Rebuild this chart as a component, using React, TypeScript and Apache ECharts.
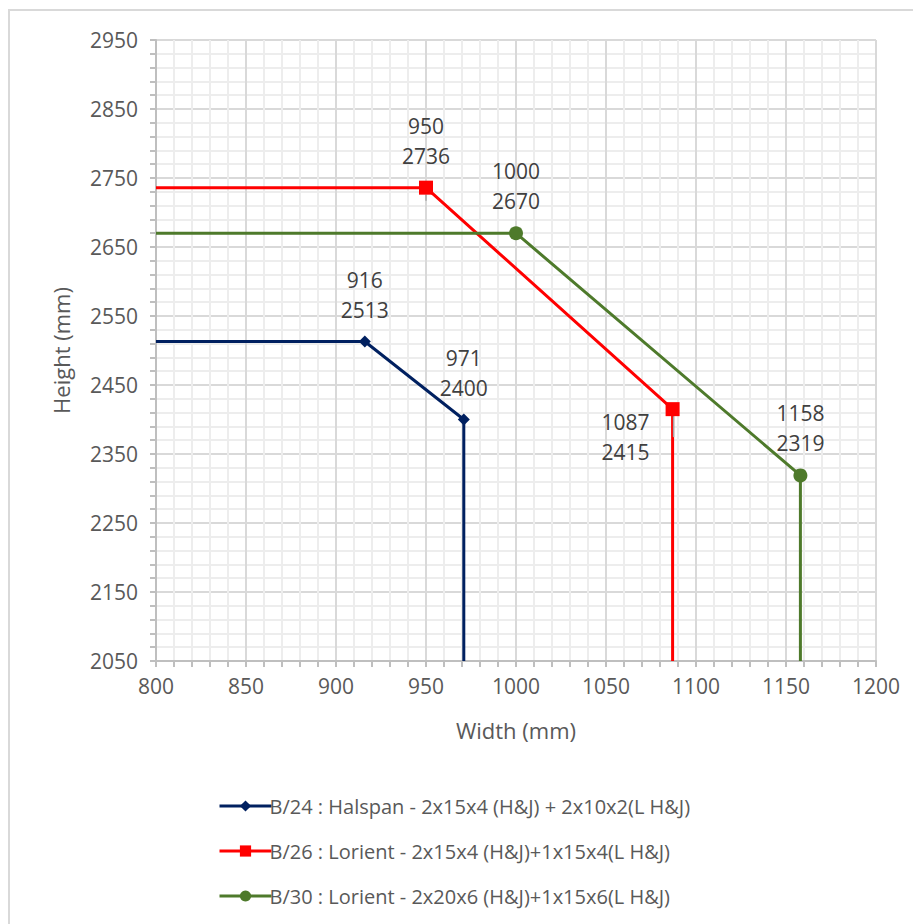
import React, { useEffect, useRef } from "react";
import * as echarts from "echarts";

const xTicks = { min: 800, max: 1200, interval: 50 };
const yTicks = { min: 2050, max: 2950, interval: 100 };

const seriesNames = [
  "B/24 : Halspan - 2x15x4 (H&J) + 2x10x2(L H&J)",
  "B/26 : Lorient - 2x15x4 (H&J)+1x15x4(L H&J)",
  "B/30 : Lorient - 2x20x6 (H&J)+1x15x6(L H&J)",
];
const seriesColors = ["#002060", "#FF0000", "#4E7A2B"];
const seriesSymbols = ["diamond", "rect", "circle"];
const seriesSymbolSizes = [12, 14, 14];

// each series: start at left axis, flat to first marker, slope to second marker, down to bottom axis
const b24Width = [800, 916, 971, 971];
const b24Height = [2513, 2513, 2400, 2050];
const b26Width = [800, 950, 1087, 1087];
const b26Height = [2736, 2736, 2415, 2050];
const b30Width = [800, 1000, 1158, 1158];
const b30Height = [2670, 2670, 2319, 2050];
const markerIndices = [1, 2];

const widths = [b24Width, b26Width, b30Width];
const heights = [b24Height, b26Height, b30Height];

const FONT = "'Open Sans', sans-serif";
const TEXT = "#595959";
const LABEL = "#404040";

export default function App() {
  const ref = useRef<HTMLDivElement>(null);
  useEffect(() => {
    if (!ref.current) return;
    const chart = echarts.init(ref.current, null, { renderer: "svg" });
    const series = widths.map((xs, si) => ({
      name: seriesNames[si],
      type: "line",
      color: seriesColors[si],
      symbol: seriesSymbols[si],
      symbolSize: seriesSymbolSizes[si],
      lineStyle: { width: 3, color: seriesColors[si] },
      itemStyle: { color: seriesColors[si] },
      showAllSymbol: true,
      data: xs.map((x, i) => {
        const isMarker = markerIndices.includes(i);
        const item: any = { value: [x, heights[si][i]] };
        if (!isMarker) {
          item.symbol = "none";
          item.label = { show: false };
        }
        return item;
      }),
      label: {
        show: true,
        position: "top",
        distance: si === 0 ? 11 : 10,
        color: LABEL,
        fontFamily: FONT,
        fontSize: 21,
        lineHeight: 30,
        formatter: (p: any) => `${p.value[0]}\n${p.value[1]}`,
      },
      labelLine: si === 1 ? { show: true, lineStyle: { color: "#a6a6a6", width: 1.5 } } : undefined,
    }));

    // red second marker label sits to the lower left
    (series[1].data as any[])[2].label = {
      show: true,
      position: "left",
      distance: 16,
      offset: [0, 28],
    };

    const plain = (v: number) => String(v);

    chart.setOption({
      animation: false,
      grid: { left: 156, right: 37, top: 40, bottom: 263, containLabel: false },
      xAxis: {
        type: "value",
        min: xTicks.min,
        max: xTicks.max,
        interval: xTicks.interval,
        name: "Width (mm)",
        nameLocation: "middle",
        nameGap: 58,
        nameTextStyle: { color: TEXT, fontFamily: FONT, fontSize: 22 },
        axisLine: { show: true, lineStyle: { color: "#bfbfbf", width: 2 } },
        axisTick: { show: true, length: 6, lineStyle: { color: "#bfbfbf", width: 2 } },
        minorTick: { show: true, splitNumber: 5, length: 6, lineStyle: { color: "#bfbfbf", width: 2 } },
        axisLabel: { color: TEXT, fontFamily: FONT, fontSize: 21, margin: 14, formatter: plain },
        splitLine: { show: true, lineStyle: { color: "#d9d9d9", width: 2 } },
        minorSplitLine: { show: true, lineStyle: { color: "#ededed", width: 2 } },
      },
      yAxis: {
        type: "value",
        min: yTicks.min,
        max: yTicks.max,
        interval: yTicks.interval,
        name: "Height (mm)",
        nameLocation: "middle",
        nameGap: 84,
        nameTextStyle: { color: TEXT, fontFamily: FONT, fontSize: 22 },
        axisLine: { show: true, lineStyle: { color: "#bfbfbf", width: 2 } },
        axisTick: { show: true, length: 6, lineStyle: { color: "#bfbfbf", width: 2 } },
        minorTick: { show: true, splitNumber: 5, length: 6, lineStyle: { color: "#bfbfbf", width: 2 } },
        axisLabel: { color: TEXT, fontFamily: FONT, fontSize: 21, margin: 18, formatter: plain },
        splitLine: { show: true, lineStyle: { color: "#d9d9d9", width: 2 } },
        minorSplitLine: { show: true, lineStyle: { color: "#ededed", width: 2 } },
      },
      legend: {
        orient: "vertical",
        left: 213,
        top: 791,
        itemWidth: 52,
        itemHeight: 14,
        itemGap: 25,
        lineStyle: { width: 3 },
        textStyle: { color: TEXT, fontFamily: FONT, fontSize: 20, lineHeight: 20, padding: [0, 0, 0, -7] },
        data: seriesNames,
      },
      series,
    });
    return () => chart.dispose();
  }, []);
  return (
    <div style={{ position: "absolute", left: 0, top: 0, width: 913, height: 924, background: "#fff" }}>
      <div
        style={{
          position: "absolute",
          left: 8,
          top: 9,
          width: 903,
          height: 913,
          borderTop: "2px solid #d9d9d9",
          borderLeft: "2px solid #d9d9d9",
        }}
      />
      <div ref={ref} style={{ position: "absolute", left: 0, top: 0, width: 913, height: 924 }} />
    </div>
  );
}
